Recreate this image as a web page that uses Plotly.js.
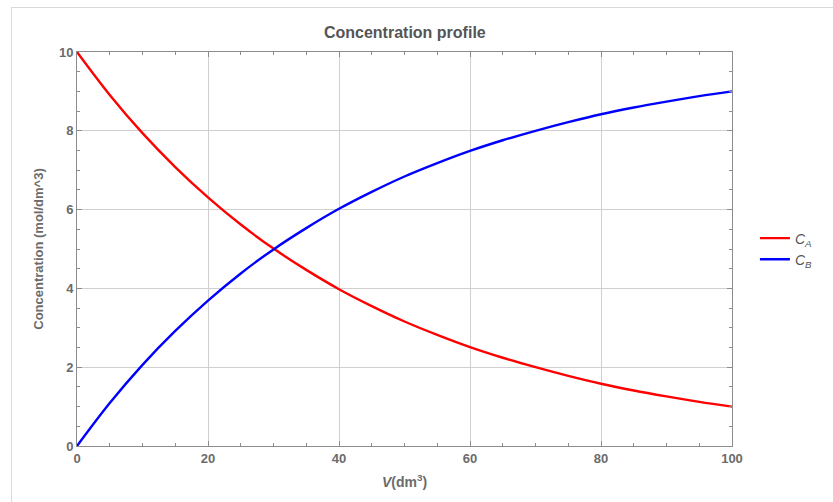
<!DOCTYPE html>
<html>
<head>
<meta charset="utf-8">
<script src="https://cdn.plot.ly/plotly-3.0.1.min.js"></script>
<style>
  html, body { margin: 0; padding: 0; background: #fff; }
  #wrap { position: relative; width: 833px; height: 502px; overflow: hidden; }
  #frame { position: absolute; left: 11px; top: 7px; width: 840px; height: 520px;
           border-top: 1px solid #d9d9d9; border-left: 1px solid #d9d9d9; }
  #chart { position: absolute; left: 0; top: 0; width: 833px; height: 502px; }
</style>
</head>
<body>
<div id="wrap">
  <div id="frame"></div>
  <div id="chart"></div>
</div>
<script>
// Volume (dm^3)
const volume = [0, 5, 10, 15, 20, 25, 30, 35, 40, 45, 50, 55, 60, 65, 70, 75, 80, 85, 90, 95, 100];
// C_A (mol/dm^3)
const concA = [10, 8.91, 7.94, 7.08, 6.31, 5.62, 5.01, 4.47, 3.98, 3.55, 3.16, 2.82, 2.51, 2.24, 2.0, 1.78, 1.58, 1.41, 1.26, 1.12, 1.0];
// C_B (mol/dm^3)
const concB = [0, 1.09, 2.06, 2.92, 3.69, 4.38, 4.99, 5.53, 6.02, 6.45, 6.84, 7.18, 7.49, 7.76, 8.0, 8.22, 8.42, 8.59, 8.74, 8.88, 9.0];
const seriesNames = ['<i>C</i><sub><i>A</i></sub>', '<i>C</i><sub><i>B</i></sub>'];
const xTickVals = [0, 20, 40, 60, 80, 100];
const yTickVals = [0, 2, 4, 6, 8, 10];

const FONT = '"Liberation Sans Narrow", "Liberation Sans", Arial, sans-serif';
const axisColor = '#8c8c8c';

const traces = [
  { x: volume, y: concA, name: seriesNames[0], type: 'scatter', mode: 'lines',
    line: { color: 'rgb(255,0,0)', width: 2.4, shape: 'spline', smoothing: 1 } },
  { x: volume, y: concB, name: seriesNames[1], type: 'scatter', mode: 'lines',
    line: { color: 'rgb(0,0,255)', width: 2.4, shape: 'spline', smoothing: 1 } }
];

const commonAxis = {
  showline: true, linecolor: axisColor, linewidth: 1, mirror: 'ticks',
  ticks: 'inside', ticklen: 5, tickwidth: 1, tickcolor: axisColor,
  showgrid: true, gridcolor: '#cfcfcf', gridwidth: 1,
  zeroline: false,
  tickfont: { family: FONT, size: 13, color: '#6b6b6b', weight: 'bold' }
};

const layout = {
  width: 833, height: 502,
  margin: { l: 77, r: 101, t: 52, b: 56 },
  paper_bgcolor: 'rgba(0,0,0,0)', plot_bgcolor: 'rgba(0,0,0,0)',
  title: { text: '<b>Concentration profile</b>', x: 0.486, xanchor: 'center', y: 0.935, yanchor: 'middle',
           font: { family: FONT, size: 16, color: '#555555' } },
  xaxis: Object.assign({}, commonAxis, {
    range: [0, 100], tickvals: xTickVals, ticktext: xTickVals.map(String),
    minor: { dtick: 5, ticks: 'inside', ticklen: 3, tickcolor: axisColor, showgrid: false },
    title: { text: '<b><i>V</i>(dm<sup>3</sup>)</b>', standoff: 12,
             font: { family: FONT, size: 14, color: '#6b6b6b' } }
  }),
  yaxis: Object.assign({}, commonAxis, {
    range: [0, 10], tickvals: yTickVals, ticktext: yTickVals.map(String),
    minor: { dtick: 0.5, ticks: 'inside', ticklen: 3, tickcolor: axisColor, showgrid: false },
    title: { text: '<b>Concentration (mol/dm^3)</b>', standoff: 12,
             font: { family: FONT, size: 13, color: '#6b6b6b' } }
  }),
  showlegend: true,
  legend: { x: 1.035, xanchor: 'left', y: 0.5, yanchor: 'middle',
            itemwidth: 30, tracegroupgap: 0,
            font: { family: FONT, size: 14, color: '#555555' },
            bgcolor: 'rgba(0,0,0,0)' }
};

Plotly.newPlot('chart', traces, layout, { staticPlot: true, displayModeBar: false });
</script>
</body>
</html>
